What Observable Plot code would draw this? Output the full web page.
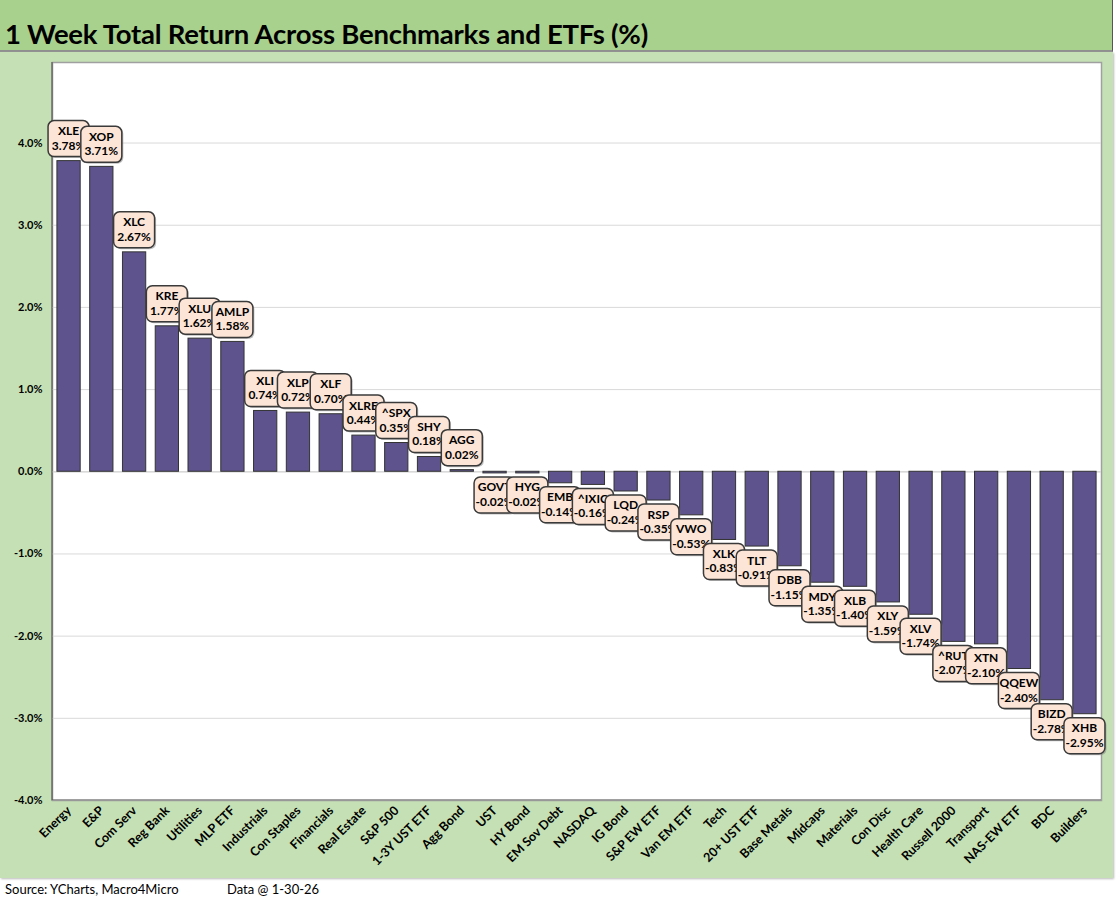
<!DOCTYPE html>
<html><head><meta charset="utf-8">
<script src="https://cdn.jsdelivr.net/npm/d3@7"></script>
<script src="https://cdn.jsdelivr.net/npm/@observablehq/plot@0.6"></script>
<style>
body{margin:0;background:#fff;font-family:Lato,"Open Sans",sans-serif;}
#page{width:1116px;height:911px;position:relative;overflow:hidden;}
#title{position:absolute;left:0;top:0;width:1112px;height:50px;background:#A9D18E;border-bottom:2px solid #8f8f8f;border-right:1px solid #555;}
#title span{position:absolute;left:5px;top:17px;font-weight:bold;font-size:27.5px;color:#000;white-space:nowrap;letter-spacing:-0.25px;}
#chart{position:absolute;left:0;top:52px;width:1113px;height:826px;background:#C5E0B4;box-shadow:1px 1px 2px #bbb;}
#foot{position:absolute;top:881px;left:5px;font-size:13px;color:#000;}
#foot2{position:absolute;top:881px;left:227px;font-size:13px;color:#000;}
</style></head>
<body><div id="page">
<div id="title"><span>1 Week Total Return Across Benchmarks and ETFs (%)</span></div>
<div id="chart"></div>
<div id="foot">Source: YCharts, Macro4Micro</div>
<div id="foot2">Data @ 1-30-26</div>
</div>
<script>
const categories = ["Energy","E&P","Com Serv","Reg Bank","Utilities","MLP ETF","Industrials","Con Staples","Financials","Real Estate","S&P 500","1-3Y UST ETF","Agg Bond","UST","HY Bond","EM Sov Debt","NASDAQ","IG Bond","S&P EW ETF","Van EM ETF","Tech","20+ UST ETF","Base Metals","Midcaps","Materials","Con Disc","Health Care","Russell 2000","Transport","NAS-EW ETF","BDC","Builders"];
const tickers = ["XLE","XOP","XLC","KRE","XLU","AMLP","XLI","XLP","XLF","XLRE","^SPX","SHY","AGG","GOVT","HYG","EMB","^IXIC","LQD","RSP","VWO","XLK","TLT","DBB","MDY","XLB","XLY","XLV","^RUT","XTN","QQEW","BIZD","XHB"];
const returns = [3.78,3.71,2.67,1.77,1.62,1.58,0.74,0.72,0.70,0.44,0.35,0.18,0.02,-0.02,-0.02,-0.14,-0.16,-0.24,-0.35,-0.53,-0.83,-0.91,-1.15,-1.35,-1.40,-1.59,-1.74,-2.07,-2.10,-2.40,-2.78,-2.95];
const yTicks = [-4,-3,-2,-1,0,1,2,3,4];

const rows = categories.map((c,i)=>({name:c, ticker:tickers[i], value:returns[i]}));

const FONT = "Lato, 'Open Sans', sans-serif";
const BW = 41, BH = 36, GAP = 4;
const ns = "http://www.w3.org/2000/svg";

function axisLines(index, scales, values, dimensions, context) {
  const doc = (context && context.document) || document;
  const {width, height, marginLeft, marginRight, marginTop, marginBottom} = dimensions;
  const g = doc.createElementNS(ns, "g");
  const l = doc.createElementNS(ns, "path");
  l.setAttribute("d", `M${marginLeft},${marginTop}V${height - marginBottom}H${width - marginRight}`);
  l.setAttribute("fill", "none"); l.setAttribute("stroke", "#595959"); l.setAttribute("stroke-width", 1.2);
  g.appendChild(l);
  return g;
}

function labelsMark(index, scales, values, dimensions, context) {
  const doc = (context && context.document) || document;
  const g = doc.createElementNS(ns, "g");
  const x = scales.x, y = scales.y;
  const bw = x.bandwidth ? x.bandwidth() : 23;
  rows.forEach(d => {
    const cx = x(d.name) + bw/2;
    const yv = y(d.value);
    const top = d.value >= 0 ? yv - GAP - BH : yv + GAP;
    const sh = doc.createElementNS(ns, "rect");
    sh.setAttribute("x", cx - BW/2 + 1.5); sh.setAttribute("y", top + 1.5);
    sh.setAttribute("width", BW); sh.setAttribute("height", BH);
    sh.setAttribute("rx", 6); sh.setAttribute("fill", "#7f7f7f"); sh.setAttribute("fill-opacity", 0.5);
    g.appendChild(sh);
    const r = doc.createElementNS(ns, "rect");
    r.setAttribute("x", cx - BW/2); r.setAttribute("y", top);
    r.setAttribute("width", BW); r.setAttribute("height", BH);
    r.setAttribute("rx", 6); r.setAttribute("fill", "#FCE4D6");
    r.setAttribute("stroke", "#3a3a3a"); r.setAttribute("stroke-width", 1.5);
    g.appendChild(r);
    [[d.ticker, 14.5], [d.value.toFixed(2) + "%", 29]].forEach(([s, dy]) => {
      const t = doc.createElementNS(ns, "text");
      t.setAttribute("x", cx); t.setAttribute("y", top + dy);
      t.setAttribute("text-anchor", "middle");
      t.setAttribute("font-size", 12); t.setAttribute("font-weight", "bold");
      t.setAttribute("font-family", FONT); t.setAttribute("fill", "#000");
      t.textContent = s;
      g.appendChild(t);
    });
  });
  return g;
}

const chart = Plot.plot({
  width: 1113,
  height: 826,
  marginLeft: 52,
  marginRight: 12,
  marginTop: 10,
  marginBottom: 78,
  style: {background: "transparent", fontFamily: FONT},
  x: {domain: categories, paddingInner: 0.29, paddingOuter: 0.15, round: false, label: null},
  y: {domain: [-4, 4.98], label: null},
  marks: [
    Plot.frame({fill: "white", stroke: "#A0A0A0", strokeWidth: 1.5}),
    Plot.gridY(yTicks, {stroke: "#D9D9D9", strokeOpacity: 1}),
    Plot.ruleY([0], {stroke: "#D9D9D9", strokeWidth: 1.5}),
    axisLines,
    Plot.barY(rows, {x: "name", y: "value", fill: "#5F538D", stroke: "#333333", strokeWidth: 1}),
    labelsMark,
    Plot.axisY(yTicks, {tickSize: 0, tickPadding: 10, tickFormat: d => d.toFixed(1) + "%", fontSize: 11, fontWeight: "bold", fill: "#000"}),
    Plot.axisX({tickSize: 0, tickPadding: 8, tickRotate: -45, fontSize: 12.5, fontWeight: "bold", fill: "#000"})
  ]
});
document.getElementById("chart").appendChild(chart);
</script>
</body></html>
